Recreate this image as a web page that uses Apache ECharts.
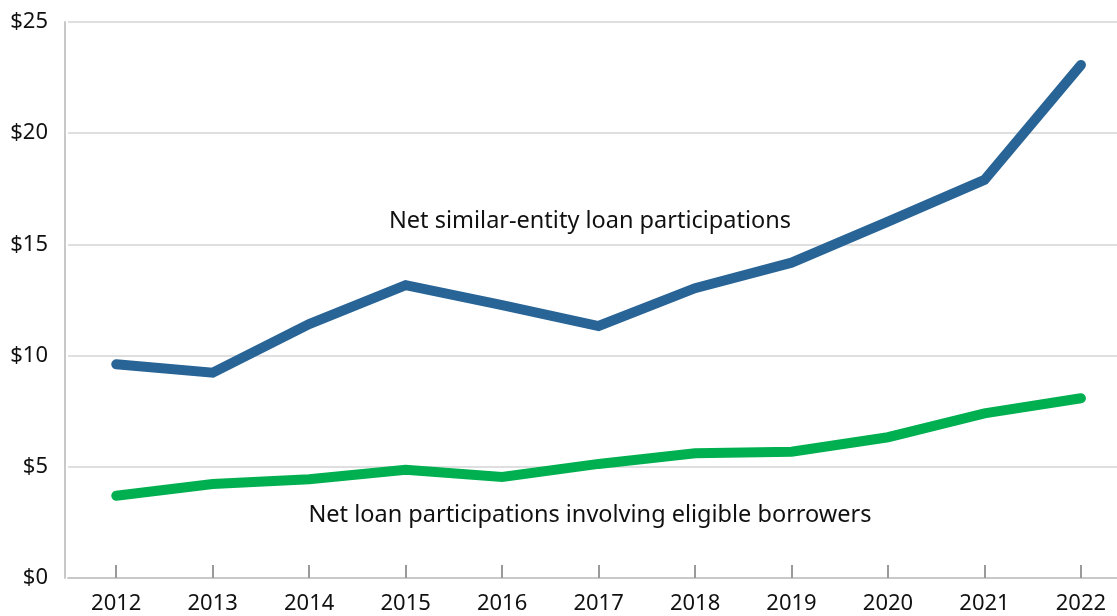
<!DOCTYPE html>
<html>
<head>
<meta charset="utf-8">
<script src="https://cdn.jsdelivr.net/npm/echarts@6/dist/echarts.min.js"></script>
<style>
  html, body { margin: 0; padding: 0; background: #fff; overflow: hidden; }
  #chart { width: 1117px; height: 616px; }
</style>
</head>
<body>
<div id="chart"></div>
<script>
// Years on the horizontal axis
const years = ['2012', '2013', '2014', '2015', '2016', '2017', '2018', '2019', '2020', '2021', '2022'];

// Net similar-entity loan participations (billions of dollars)
const similarEntity = [9.61, 9.23, 11.42, 13.17, 12.27, 11.33, 13.03, 14.18, 16.02, 17.9, 23.07];

// Net loan participations involving eligible borrowers (billions of dollars)
const eligibleBorrowers = [3.7, 4.23, 4.44, 4.87, 4.54, 5.13, 5.61, 5.68, 6.33, 7.4, 8.08];

// Dollar tick values on the vertical axis
const yTicks = [0, 5, 10, 15, 20, 25];

const seriesLabels = {
  top: 'Net similar-entity loan participations',
  bottom: 'Net loan participations involving eligible borrowers'
};

const FONT = '"Noto Sans", sans-serif';

// Horizontal layout: each year occupies an equal slot, the first slot starts at the plot's left edge
const PLOT_LEFT = 68;
const SLOT = 96.47;
const yearNums = years.map(Number);
const xMin = yearNums[0] - 0.5;
const xMax = xMin + (1117 - PLOT_LEFT) / SLOT;

const chart = echarts.init(document.getElementById('chart'), null, { renderer: 'canvas' });

chart.setOption({
  animation: false,
  backgroundColor: '#ffffff',
  grid: { left: PLOT_LEFT, top: 22, right: 0, bottom: 38, containLabel: false },
  xAxis: {
    type: 'value',
    min: xMin,
    max: xMax,
    axisLine: { show: true, onZero: false, lineStyle: { color: '#c8c8c8', width: 2 } },
    axisTick: {
      show: true, inside: true, length: 13, customValues: yearNums,
      lineStyle: { color: '#9a9a9a', width: 2 }
    },
    axisLabel: {
      color: '#111', fontSize: 22, fontFamily: FONT, margin: 15,
      customValues: yearNums,
      formatter: v => String(v)
    },
    splitLine: { show: false }
  },
  yAxis: {
    type: 'value',
    min: yTicks[0],
    max: yTicks[yTicks.length - 1],
    interval: yTicks[1] - yTicks[0],
    offset: 3,
    axisLine: { show: true, lineStyle: { color: '#c8c8c8', width: 2 } },
    axisTick: { show: false },
    axisLabel: {
      color: '#111', fontSize: 22, fontFamily: FONT, margin: 17,
      formatter: v => '$' + v
    },
    splitLine: { show: true, lineStyle: { color: '#d4d4d4', width: 1.5 } }
  },
  series: [
    {
      name: seriesLabels.top,
      type: 'line',
      data: yearNums.map((y, i) => [y, similarEntity[i]]),
      symbol: 'none',
      lineStyle: { color: '#286496', width: 10, cap: 'round', join: 'miter' },
      z: 3
    },
    {
      name: seriesLabels.bottom,
      type: 'line',
      data: yearNums.map((y, i) => [y, eligibleBorrowers[i]]),
      symbol: 'none',
      lineStyle: { color: '#00b050', width: 10, cap: 'round', join: 'miter' },
      z: 3
    }
  ],
  graphic: [
    {
      type: 'text',
      x: 590, y: 221,
      style: {
        text: seriesLabels.top, fill: '#111', font: '23.5px ' + FONT,
        textAlign: 'center', textVerticalAlign: 'middle'
      }
    },
    {
      type: 'text',
      x: 590, y: 515,
      style: {
        text: seriesLabels.bottom, fill: '#111', font: '23.5px ' + FONT,
        textAlign: 'center', textVerticalAlign: 'middle'
      }
    }
  ]
});
</script>
</body>
</html>
